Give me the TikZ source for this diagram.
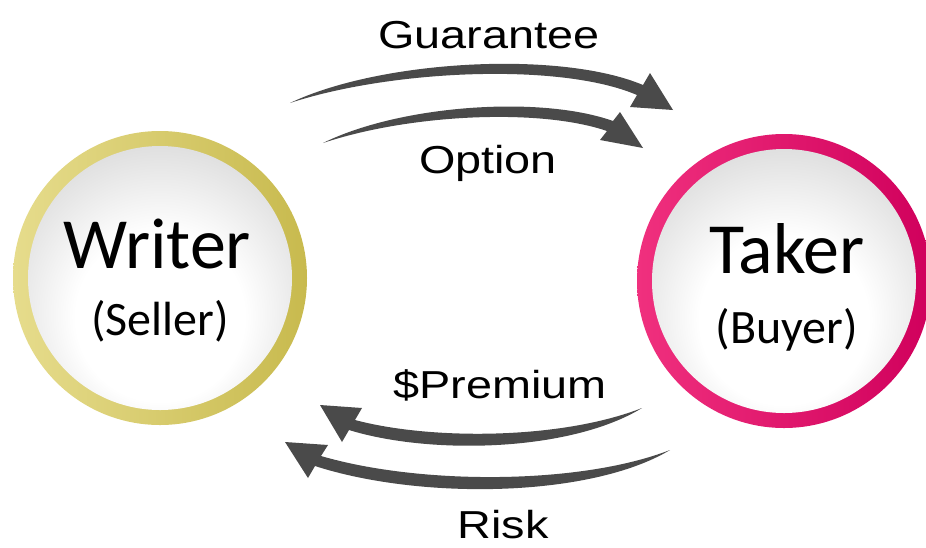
\documentclass[tikz,border=0pt]{standalone}
\usepackage{fontspec}
\setmainfont{Liberation Sans}
\newfontfamily\bubblefont{Carlito}
\usetikzlibrary{shapes,positioning}

\definecolor{arrowgrey}{HTML}{4A4A4A}
\definecolor{writerlight}{HTML}{E6DC8C}
\definecolor{writerdark}{HTML}{C8BA4E}
\definecolor{takerlight}{HTML}{F0307E}
\definecolor{takerdark}{HTML}{D0005C}

\pgfdeclareradialshading{glass}{\pgfpoint{0bp}{-10bp}}{%
  color(0bp)=(white); color(16bp)=(white); color(32bp)=(black!14);
  color(46bp)=(black!34); color(56bp)=(black!46); color(62bp)=(black!46)}

\tikzstyle{ring} = [circle, inner sep=0pt, minimum size=294pt]
\tikzset{
	writerring/.style = {ring, left color=writerlight, right color=writerdark},
	takerring/.style  = {ring, left color=takerlight, right color=takerdark},
	glass/.style      = {circle, inner sep=0pt, minimum size=264pt, shading=glass},
	bigname/.style    = {font=\bubblefont\fontsize{72}{80}\selectfont, anchor=base, inner sep=0pt},
	subname/.style    = {font=\bubblefont\fontsize{48}{56}\selectfont, anchor=base, inner sep=0pt},
	flowtext/.style   = {font=\fontsize{39}{45}\selectfont, xscale=1.2, anchor=base, inner sep=0pt},
	flow/.style       = {fill=arrowgrey}
}

\begin{document}
\begin{tikzpicture}[x=1pt, y=-1pt]
    \useasboundingbox (0,0) rectangle (926,547);

    % the two parties
    \node [writerring] (writer) at (160,278) {};
    \node [glass] (writerglass) at (writer) {};
    \node [bigname] (writername) at (157,268) {Writer};
    \node [subname] (writerrole) at (160,335) {(Seller)};

    \node [takerring] (taker) at (784,281) {};
    \node [glass] (takerglass) at (taker) {};
    \node [bigname] (takername) at (787,273) {Taker};
    \node [subname] (takerrole) at (787,343) {(Buyer)};

    % free ends of the curved arrows
    \coordinate (guarTail) at (290,103);
    \coordinate (guarTip)  at (673,110);
    \coordinate (optTail)  at (323,143);
    \coordinate (optTip)   at (643,148);
    \coordinate (premTail) at (642,408);
    \coordinate (premTip)  at (320,405);
    \coordinate (riskTail) at (670,450);
    \coordinate (riskTip)  at (285,442);

    % writer -> taker
    \fill [flow] (guarTail) .. controls (380,60) and (560,50) .. (643,85)
        -- (650,73) -- (guarTip) -- (630,107) -- (637,95)
        .. controls (560,62) and (390,70) .. (guarTail);
    \fill [flow] (optTail) .. controls (400,105) and (540,95) .. (613,121)
        -- (620,112) -- (optTip) -- (600,140) -- (607,131)
        .. controls (540,108) and (410,114) .. (optTail);

    % taker -> writer
    \fill [flow] (premTail) .. controls (560,440) and (430,440) .. (355,420)
        -- (362,408) -- (premTip) -- (342,442) -- (349,430)
        .. controls (430,455) and (570,452) .. (premTail);
    \fill [flow] (riskTail) .. controls (580,485) and (420,485) .. (321,456)
        -- (328,445) -- (riskTip) -- (308,478) -- (315,466)
        .. controls (420,500) and (590,498) .. (riskTail);

    % labels on the flows
    \node [flowtext] (guarantee) at (489,48) {Guarantee};
    \node [flowtext] (option) at (488,173) {Option};
    \node [flowtext] (premium) at (500,398) {\$Premium};
    \node [flowtext] (risk) at (503,538) {Risk};
\end{tikzpicture}
\end{document}
